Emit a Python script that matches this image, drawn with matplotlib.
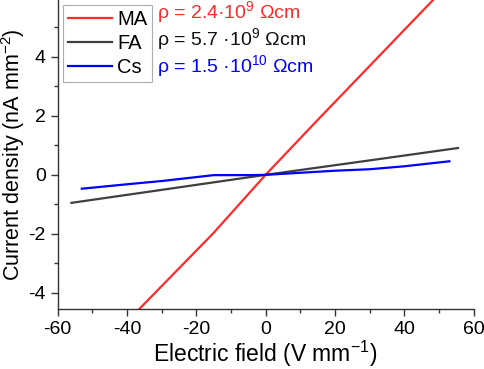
import numpy as np
import matplotlib
matplotlib.use('Agg')
import matplotlib.pyplot as plt
from matplotlib.ticker import MultipleLocator

plt.rcParams['font.family'] = ['Liberation Sans', 'DejaVu Sans']
plt.rcParams['axes.unicode_minus'] = False
plt.rcParams['mathtext.fontset'] = 'custom'
plt.rcParams['mathtext.rm'] = 'Liberation Sans'
plt.rcParams['mathtext.it'] = 'Liberation Sans'
plt.rcParams['mathtext.default'] = 'regular'

# data
ma_x = [-55, -36, -15, 0, 15, 48.3, 55]
ma_y = [-6.85, -4.5, -1.97, 0.0, 1.86, 5.93, 6.75]
fa_x = [-56, -30, 0, 30, 55.5]
fa_y = [-0.95, -0.51, 0.0, 0.49, 0.91]
cs_x = [-53, -40, -30, -15, -5, 0, 10, 20, 30, 40, 53]
cs_y = [-0.47, -0.32, -0.21, -0.01, -0.01, 0.0, 0.07, 0.14, 0.19, 0.29, 0.46]

labels = ['MA', 'FA', 'Cs']
rho_texts = ['ρ = 2.4·10$^{9}$ Ωcm',
             'ρ = 5.7 ·10$^{9}$ Ωcm',
             'ρ = 1.5 ·10$^{10}$ Ωcm']
colors = ['#ff2a2a', '#3f3f3f', '#0000ff']
text_colors = ['#ff2a2a', '#111111', '#0000ff']

fig = plt.figure(figsize=(4.85, 3.69), dpi=100)
ax = fig.add_axes([0.1186, 0.1626, 0.858, 0.8374])

ax.plot(ma_x, ma_y, color=colors[0], lw=1.6, label=labels[0])
ax.plot(fa_x, fa_y, color=colors[1], lw=1.6, label=labels[1])
ax.plot(cs_x, cs_y, color=colors[2], lw=1.6, label=labels[2])

ax.set_xlim(-60, 60)
ax.set_ylim(-4.55, 5.93)
ax.xaxis.set_major_locator(MultipleLocator(20))
ax.xaxis.set_minor_locator(MultipleLocator(10))
ax.yaxis.set_major_locator(MultipleLocator(2))
ax.yaxis.set_minor_locator(MultipleLocator(1))
ax.spines['top'].set_visible(False)
ax.spines['right'].set_visible(False)
for s in ['left', 'bottom']:
    ax.spines[s].set_linewidth(1.0)
    ax.spines[s].set_color('#333333')
ax.tick_params(which='major', direction='out', length=5, width=1, labelsize=14, colors='#333333', labelcolor='black')
ax.tick_params(which='minor', direction='out', length=3, width=1, colors='#333333')

ax.set_xlabel('Electric field (V mm$^{-1}$)', fontsize=16.5, labelpad=1)
ax.set_ylabel('Current density (nA mm$^{-2}$)', fontsize=15.5)
ax.yaxis.set_label_coords(-0.074, 0.5)

leg = ax.legend(loc='upper left', bbox_to_anchor=(0.0, 1.0), fontsize=14.5,
                handlelength=2.2, handletextpad=0.25, labelspacing=0.25,
                borderpad=0.25, frameon=True, fancybox=False, borderaxespad=0.25)
leg.get_frame().set_edgecolor('#999999')
leg.get_frame().set_linewidth(0.8)

for i, t in enumerate(rho_texts):
    ax.text(0.24, 0.94 - i * 0.087, t, transform=ax.transAxes, color=text_colors[i],
            fontsize=14, va='baseline', ha='left')

plt.savefig('out.png', dpi=100)
plt.close()
